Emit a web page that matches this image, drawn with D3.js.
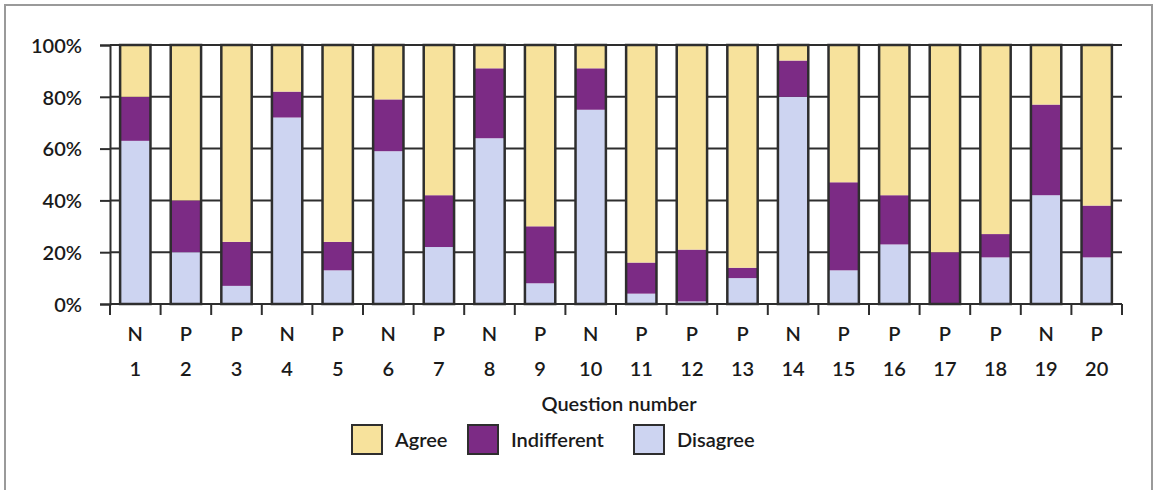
<!DOCTYPE html>
<html>
<head>
<meta charset="utf-8">
<script src="https://cdn.jsdelivr.net/npm/d3@7"></script>
<style>
  html, body { margin: 0; padding: 0; background: #fff; }
  svg { display: block; }
  text { font-family: Lato, "Open Sans", sans-serif; font-weight: 600; fill: #1a1a1a; }
</style>
</head>
<body>
<svg id="chart" width="1155" height="490"></svg>
<script>
// Survey responses per question (percent of respondents)
const questions = ["1","2","3","4","5","6","7","8","9","10","11","12","13","14","15","16","17","18","19","20"];
const polarity  = ["N","P","P","N","P","N","P","N","P","N","P","P","P","N","P","P","P","P","N","P"];
const disagree    = [63, 20,  7, 72, 13, 59, 22, 64,  8, 75,  4,  1, 10, 80, 13, 23,  0, 18, 42, 18];
const indifferent = [17, 20, 17, 10, 11, 20, 20, 27, 22, 16, 12, 20,  4, 14, 34, 19, 20,  9, 35, 20];
const agree       = [20, 60, 76, 18, 76, 21, 58,  9, 70,  9, 84, 79, 86,  6, 53, 58, 80, 73, 23, 62];
const yTicks = [0, 20, 40, 60, 80, 100];
const seriesNames = ["Agree", "Indifferent", "Disagree"];

const colors = { Disagree: "#cdd4f1", Indifferent: "#7c2b85", Agree: "#f7e29c" };
const ink = "#2e2e2e";

const rows = questions.map((q, i) => ({
  q, Disagree: disagree[i], Indifferent: indifferent[i], Agree: agree[i]
}));

const svg = d3.select("#chart");

// outer frame
svg.append("rect")
  .attr("x", 5).attr("y", 5).attr("width", 1147).attr("height", 495)
  .attr("fill", "#fff").attr("stroke", "#9a9a9a").attr("stroke-width", 2);

const plot = { left: 110, right: 1122, top: 45, bottom: 304 };

const x = d3.scaleBand().domain(questions)
  .range([plot.left, plot.right]).paddingInner(0.4).paddingOuter(0.2);
const y = d3.scaleLinear().domain([0, 100]).range([plot.bottom, plot.top]);

// horizontal gridlines
svg.append("g").selectAll("line").data(yTicks.filter(t => t > 0)).join("line")
  .attr("x1", plot.left).attr("x2", plot.right)
  .attr("y1", d => y(d)).attr("y2", d => y(d))
  .attr("stroke", ink).attr("stroke-width", 2);

// stacked bars
const stack = d3.stack().keys(["Disagree", "Indifferent", "Agree"]);
const layers = stack(rows);

svg.append("g").selectAll("g").data(layers).join("g")
  .attr("fill", d => colors[d.key])
  .selectAll("rect").data(d => d).join("rect")
  .attr("x", d => x(d.data.q))
  .attr("width", x.bandwidth())
  .attr("y", d => y(d[1]))
  .attr("height", d => y(d[0]) - y(d[1]));

// dark outline round each bar
svg.append("g").selectAll("rect").data(rows).join("rect")
  .attr("x", d => x(d.q))
  .attr("width", x.bandwidth())
  .attr("y", y(100))
  .attr("height", y(0) - y(100))
  .attr("fill", "none").attr("stroke", ink).attr("stroke-width", 2.5);

// y axis
const yAxis = d3.axisLeft(y).tickValues(yTicks).tickFormat(d => d + "%")
  .tickSize(10).tickPadding(18);
const gy = svg.append("g").attr("transform", `translate(${plot.left},0)`).call(yAxis);
gy.select(".domain").attr("stroke", ink).attr("stroke-width", 2);
gy.selectAll(".tick line").attr("stroke", ink).attr("stroke-width", 2);
gy.selectAll(".tick text").attr("font-size", 20).attr("fill", "#1a1a1a")
  .style("font-family", "Lato, sans-serif").style("font-weight", 600).attr("dy", "0.36em");

// x axis baseline and ticks at category boundaries
svg.append("line")
  .attr("x1", plot.left).attr("x2", plot.right)
  .attr("y1", plot.bottom).attr("y2", plot.bottom)
  .attr("stroke", ink).attr("stroke-width", 2);
const step = x.step();
const bounds = questions.map(q => x(q) - x.paddingOuter() * step);
bounds.push(plot.right);
svg.append("g").selectAll("line").data(bounds).join("line")
  .attr("x1", d => d).attr("x2", d => d)
  .attr("y1", plot.bottom).attr("y2", plot.bottom + 11)
  .attr("stroke", ink).attr("stroke-width", 2);

// category labels: polarity letter above question number
svg.append("g").selectAll("text").data(questions).join("text")
  .attr("x", d => x(d) + x.bandwidth() / 2)
  .attr("y", 341)
  .attr("text-anchor", "middle").attr("font-size", 20)
  .text((d, i) => polarity[i]);
svg.append("g").selectAll("text").data(questions).join("text")
  .attr("x", d => x(d) + x.bandwidth() / 2)
  .attr("y", 376)
  .attr("text-anchor", "middle").attr("font-size", 20)
  .text(d => d);

svg.append("text")
  .attr("x", 619).attr("y", 411)
  .attr("text-anchor", "middle").attr("font-size", 20)
  .text("Question number");

// legend
const legendX = [352, 468, 634];
const legend = svg.append("g").selectAll("g").data(seriesNames).join("g")
  .attr("transform", (d, i) => `translate(${legendX[i]},425)`);
legend.append("rect")
  .attr("width", 30).attr("height", 29)
  .attr("fill", d => colors[d]).attr("stroke", ink).attr("stroke-width", 2);
legend.append("text")
  .attr("x", 43).attr("y", 22)
  .attr("font-size", 20)
  .text(d => d);
</script>
</body>
</html>
